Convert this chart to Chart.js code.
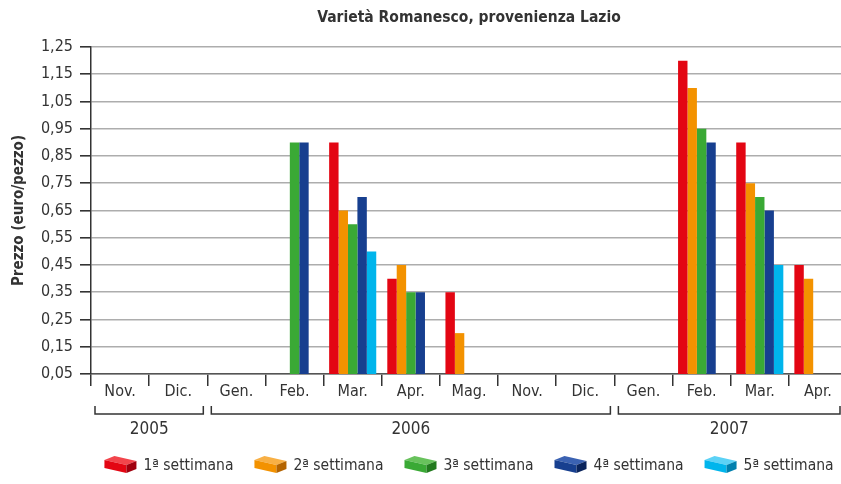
<!DOCTYPE html>
<html>
<head>
<meta charset="utf-8">
<script src="https://cdn.jsdelivr.net/npm/chart.js@4/dist/chart.umd.min.js"></script>
<style>
  html, body { margin: 0; padding: 0; background: #fff; overflow: hidden; }
  #wrap { width: 847px; height: 484px; }
</style>
</head>
<body>
<div id="wrap"><canvas id="myChart" width="847" height="484"></canvas></div>
<script>
// months on the x axis
var months = ['Nov.', 'Dic.', 'Gen.', 'Feb.', 'Mar.', 'Apr.', 'Mag.', 'Nov.', 'Dic.', 'Gen.', 'Feb.', 'Mar.', 'Apr.'];

// years under the months (first and last month index of each)
var years = ['2005', '2006', '2007'];
var yearFirst = [0, 2, 9];
var yearLast = [1, 8, 12];

// price per week (euro/pezzo)
var week1 = [null, null, null, null, 0.90, 0.40, 0.35, null, null, null, 1.20, 0.90, 0.45];
var week2 = [null, null, null, null, 0.65, 0.45, 0.20, null, null, null, 1.10, 0.75, 0.40];
var week3 = [null, null, null, 0.90, 0.60, 0.35, null, null, null, null, 0.95, 0.70, null];
var week4 = [null, null, null, 0.90, 0.70, 0.35, null, null, null, null, 0.90, 0.65, null];
var week5 = [null, null, null, null, 0.50, null, null, null, null, null, null, 0.45, null];

var weekNames = ['1ª settimana', '2ª settimana', '3ª settimana', '4ª settimana', '5ª settimana'];

var yTicks = [0.05, 0.15, 0.25, 0.35, 0.45, 0.55, 0.65, 0.75, 0.85, 0.95, 1.05, 1.15, 1.25];

var FONT = "'Liberation Sans Narrow', 'DejaVu Sans Condensed', 'Roboto', sans-serif";
var colors = ['#e30613', '#f39200', '#3aa935', '#173f8f', '#00b5ec'];
var tops = ['#f2454c', '#f8b045', '#68c25c', '#3b62b2', '#5cd2f6'];
var sides = ['#a0000e', '#b46400', '#227a1e', '#0a245c', '#0080ae'];

// brackets, year labels, title and the 3d-box legend
var extras = {
    id: 'extras',
    afterDraw: function(chart) {
        var ctx = chart.ctx;
        var x = chart.scales.x;
        var area = chart.chartArea;
        var half = (x.getPixelForValue(1) - x.getPixelForValue(0)) / 2;

        ctx.save();
        ctx.strokeStyle = '#333';
        ctx.lineWidth = 1.5;
        ctx.fillStyle = '#333';
        ctx.textAlign = 'center';
        ctx.textBaseline = 'middle';
        ctx.font = '17px ' + FONT;
        for (var i = 0; i < years.length; i++) {
            var l = x.getPixelForValue(yearFirst[i]) - half + 4;
            var r = Math.min(x.getPixelForValue(yearLast[i]) + half - 4, 840);
            ctx.beginPath();
            ctx.moveTo(l, 406);
            ctx.lineTo(l, 414);
            ctx.lineTo(r, 414);
            ctx.lineTo(r, 406);
            ctx.stroke();
            ctx.fillText(years[i], (l + r) / 2, 430);
        }

        // title
        ctx.font = 'bold 15.5px ' + FONT;
        ctx.fillText('Varietà Romanesco, provenienza Lazio', (area.left + area.right) / 2, 18);

        // legend
        ctx.font = '15.5px ' + FONT;
        var iconW = 32, gap = 7, space = 21;
        var widths = weekNames.map(function(t) { return iconW + gap + ctx.measureText(t).width; });
        var total = widths.reduce(function(a, b) { return a + b; }, 0) + space * (widths.length - 1);
        var px = (area.left + area.right) / 2 - total / 2;
        var py = 456;
        ctx.textAlign = 'left';
        for (var k = 0; k < weekNames.length; k++) {
            drawBox(ctx, px, py, k);
            ctx.fillStyle = '#333';
            ctx.fillText(weekNames[k], px + iconW + gap, py + 10);
            px += widths[k] + space;
        }
        ctx.restore();
    }
};

function drawBox(ctx, x, y, k) {
    var h = 8;
    // top face
    ctx.fillStyle = tops[k];
    ctx.beginPath();
    ctx.moveTo(x, y + 4);
    ctx.lineTo(x + 10, y);
    ctx.lineTo(x + 32, y + 5);
    ctx.lineTo(x + 22, y + 9);
    ctx.closePath();
    ctx.fill();
    // front face
    ctx.fillStyle = colors[k];
    ctx.beginPath();
    ctx.moveTo(x, y + 4);
    ctx.lineTo(x + 22, y + 9);
    ctx.lineTo(x + 22, y + 9 + h);
    ctx.lineTo(x, y + 4 + h);
    ctx.closePath();
    ctx.fill();
    // side face
    ctx.fillStyle = sides[k];
    ctx.beginPath();
    ctx.moveTo(x + 22, y + 9);
    ctx.lineTo(x + 32, y + 5);
    ctx.lineTo(x + 32, y + 5 + h);
    ctx.lineTo(x + 22, y + 9 + h);
    ctx.closePath();
    ctx.fill();
}

var chart = new Chart(document.getElementById('myChart'), {
    type: 'bar',
    data: {
        labels: months,
        datasets: [week1, week2, week3, week4, week5].map(function(d, i) {
            return { label: weekNames[i], data: d, backgroundColor: colors[i] };
        })
    },
    options: {
        responsive: false,
        animation: false,
        devicePixelRatio: 1,
        categoryPercentage: 0.81,
        barPercentage: 1,
        layout: { padding: { top: 47, right: 0, bottom: 0, left: 0 } },
        plugins: {
            legend: { display: false },
            title: { display: false },
            tooltip: { enabled: false }
        },
        scales: {
            x: {
                offset: true,
                afterFit: function(scale) { scale.height = 110; },
                grid: {
                    offset: true,
                    drawOnChartArea: false,
                    tickLength: 12,
                    tickColor: '#333',
                    lineWidth: 1.5
                },
                border: { color: '#555', width: 1.5 },
                ticks: {
                    padding: -4,
                    color: '#333',
                    font: { family: FONT, size: 16 },
                    maxRotation: 0,
                    autoSkip: false
                }
            },
            y: {
                min: 0.05,
                max: 1.25,
                afterFit: function(scale) { scale.width = 91; },
                afterBuildTicks: function(scale) {
                    scale.ticks = yTicks.map(function(v) { return { value: v }; });
                },
                grid: {
                    color: '#adadad',
                    lineWidth: 1.6,
                    tickLength: 11,
                    tickColor: '#333'
                },
                border: { color: '#333', width: 1.5 },
                ticks: {
                    padding: 7,
                    color: '#333',
                    font: { family: FONT, size: 16 },
                    callback: function(v) { return v.toFixed(2).replace('.', ','); }
                },
                title: {
                    display: true,
                    text: 'Prezzo (euro/pezzo)',
                    color: '#333',
                    font: { family: FONT, size: 15, weight: 'bold' },
                    padding: { top: 10, bottom: 0 }
                }
            }
        }
    },
    plugins: [extras]
});
</script>
</body>
</html>
